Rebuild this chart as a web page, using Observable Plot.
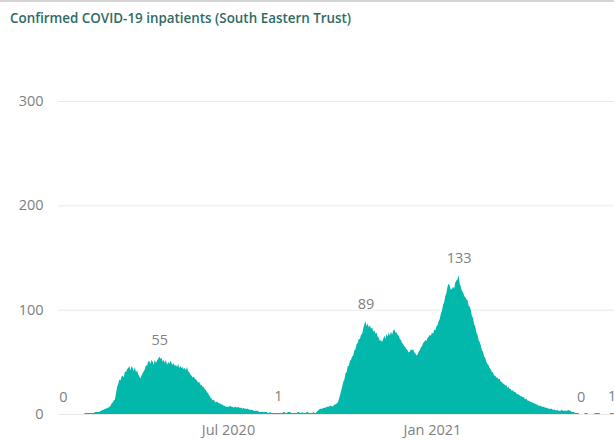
<!DOCTYPE html>
<html><head><meta charset="utf-8">
<script src="https://cdn.jsdelivr.net/npm/d3@7"></script>
<script src="https://cdn.jsdelivr.net/npm/@observablehq/plot@0.6"></script>
<style>
html,body{margin:0;padding:0;background:#fff;overflow:hidden;}
#wrap{position:relative;width:614px;height:441px;overflow:hidden;}
#wrap svg{position:absolute;left:0;top:0;}
#topline{position:absolute;left:0;top:0;width:614px;height:2px;background:#d4d4d4;z-index:2;}
#title{position:absolute;left:10px;top:9px;font-family:"Open Sans",sans-serif;font-weight:600;font-size:13.4px;color:#2e6b66;white-space:nowrap;z-index:2;}
</style></head><body>
<div id="wrap"><div id="topline"></div><div id="title">Confirmed COVID-19 inpatients (South Eastern Trust)</div></div>
<script>
// daily inpatients, first value = 3 Feb 2020
const seriesStart = "2020-02-03";
const feb2020 = [0,0,0,0,0,0,0,0,0,0,0,0,0,0,0,0,0,0,0,0,1,1,1,1,1,1,1];
const mar2020 = [1,1,2,2,2,2,2,3,3,4,4,5,5,6,6,7,8,10,11,13,14,20,26,29,33,32,36,37,35,41,40];
const apr2020 = [43,44,46,42,46,44,41,45,40,42,38,36,34,37,39,41,43,47,46,50,51,48,52,50,47,52,49,51,53,55];
const may2020 = [53,54,50,52,49,52,47,50,48,51,49,47,49,46,47,45,48,44,46,44,45,43,44,42,45,41,40,38,37,35,36];
const jun2020 = [34,33,32,30,31,28,28,26,26,24,23,21,20,18,16,15,13,14,12,11,12,11,10,10,9,9,8,8,7,7];
const jul2020 = [7,7,8,7,7,6,7,7,6,7,6,6,6,5,6,5,5,5,5,4,4,4,4,3,3,3,3,3,2,2,2];
const aug2020 = [2,2,2,2,2,1,1,2,1,1,1,1,1,1,1,1,1,1,1,2,2,1,1,2,2,2,1,1,1,1,1];
const sep2020 = [1,2,2,1,1,2,1,1,1,2,2,1,1,1,1,2,1,1,2,3,4,5,5,5,6,6,6,7,7,7];
const oct2020 = [8,8,7,8,9,9,10,11,14,18,22,26,31,33,39,40,46,46,51,52,55,56,61,62,67,68,72,72,76,77,82];
const nov2020 = [86,89,84,87,83,85,82,83,79,80,77,78,74,73,70,71,69,72,75,72,77,74,78,75,79,76,80,81,78,78];
const dec2020 = [76,75,72,71,68,67,65,64,62,61,59,60,62,61,62,59,58,56,57,60,61,64,65,68,69,71,70,73,74,76,75];
const jan2021 = [78,77,81,80,84,85,89,91,96,99,105,107,113,116,122,125,123,119,120,122,120,126,128,129,133,125,122,118,117,113,112];
const feb2021 = [110,109,104,103,100,94,92,86,84,78,76,71,69,66,61,60,55,54,50,48,47,44,43,40,40,37,37,35];
const mar2021 = [35,33,34,31,31,29,29,27,28,25,26,24,24,22,23,21,21,20,19,19,18,17,17,16,16,14,15,13,13,12,12];
const apr2021 = [11,11,10,10,9,9,8,8,8,7,7,7,6,6,6,5,5,5,5,4,4,4,3,4,3,3,3,4,3,3];
const may2021 = [3,3,3,4,3,3,2,2,2,1,1,1,1,0,0,0,0,0,1,1,1,0,0,0,0,0,0,1,1,1,1];
const jun2021 = [1,0,0,0,0,0,0,0,0,0,1,1,1,1];

const labelDates = ["2020-02-03","2020-04-30","2020-08-15","2020-11-02","2021-01-25","2021-05-15","2021-06-12"];
const yTicks = [0,100,200,300];
const xTicks = ["2020-07-01","2021-01-01"];
const xDomain = ["2020-02-01","2021-06-14"];

const values = [].concat(feb2020,mar2020,apr2020,may2020,jun2020,jul2020,aug2020,sep2020,oct2020,nov2020,dec2020,jan2021,feb2021,mar2021,apr2021,may2021,jun2021);
const t0 = new Date(seriesStart + "T00:00:00Z");
const data = values.map((v,i)=>({date: d3.utcDay.offset(t0,i), value: v}));
const key = d3.utcFormat("%Y-%m-%d");
const labelData = data.filter(d => labelDates.includes(key(d.date)));
const parse = s => new Date(s + "T00:00:00Z");

const chart = Plot.plot({
  width: 614, height: 441,
  marginLeft: 58, marginRight: 0, marginTop: 60, marginBottom: 27,
  style: {fontFamily: "'Open Sans', sans-serif", fontSize: "14px", background: "transparent", overflow: "visible"},
  x: {type: "utc", domain: xDomain.map(parse), range: [60.6, 613.8]},
  y: {domain: [0, 300], range: [414, 101]},
  marks: [
    Plot.gridY(yTicks, {stroke: "#e9e9e9", strokeOpacity: 1}),
    Plot.areaY(data, {x: "date", y: "value", fill: "#01B8AA"}),
    Plot.text(labelData, {x: "date", y: "value", text: d => String(d.value), dy: -17, fill: "#808080", fontSize: 14.5}),
    Plot.axisX(xTicks.map(parse), {tickSize: 0, tickPadding: 10, tickFormat: d3.utcFormat("%b %Y"), fill: "#808080", fontSize: 14.5, label: null}),
    Plot.axisY(yTicks, {tickSize: 0, tickPadding: 15, fill: "#808080", fontSize: 14.5, label: null})
  ]
});
document.getElementById("wrap").appendChild(chart);
</script>
</body></html>
